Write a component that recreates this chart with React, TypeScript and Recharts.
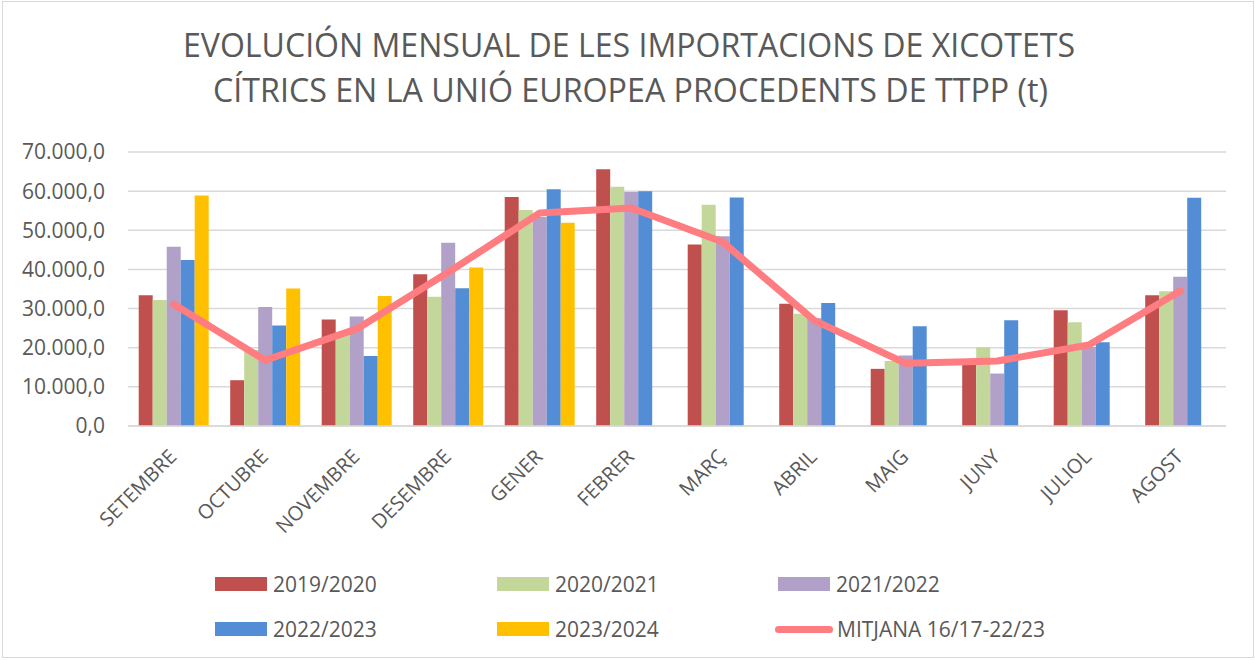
import React from 'react';
import { ComposedChart, Bar, Line, XAxis, YAxis, CartesianGrid, Legend } from 'recharts';

const months = ['SETEMBRE', 'OCTUBRE', 'NOVEMBRE', 'DESEMBRE', 'GENER', 'FEBRER', 'MARÇ', 'ABRIL', 'MAIG', 'JUNY', 'JULIOL', 'AGOST'];
const s1920 = [33400, 11700, 27200, 38800, 58500, 65600, 46400, 31200, 14600, 15600, 29600, 33400];
const s2021 = [32200, 19400, 23600, 33000, 55200, 61100, 56500, 28700, 16600, 20100, 26500, 34400];
const s2122 = [45800, 30400, 28000, 46800, 53400, 59800, 48500, 27500, 18000, 13400, 20200, 38100];
const s2223 = [42400, 25700, 17900, 35200, 60500, 60000, 58400, 31400, 25500, 27000, 21400, 58300];
const s2324: (number | null)[] = [58900, 35100, 33200, 40500, 51900, null, null, null, null, null, null, null];
const mitjana = [31100, 16800, 24800, 39300, 54400, 55700, 47000, 27000, 16000, 16600, 20700, 34500];
const yTicks = [0, 10000, 20000, 30000, 40000, 50000, 60000, 70000];

const seriesNames = ['2019/2020', '2020/2021', '2021/2022', '2022/2023', '2023/2024', 'MITJANA 16/17-22/23'];
const seriesKeys = ['s1920', 's2021', 's2122', 's2223', 's2324', 'mitjana'];
const seriesColors = ['#C0504D', '#C4D79B', '#B1A0C7', '#538DD5', '#FFC000', '#FF7C80'];

const titleLines = ['EVOLUCIÓN MENSUAL DE LES IMPORTACIONS DE XICOTETS', 'CÍTRICS EN LA UNIÓ EUROPEA PROCEDENTS DE TTPP (t)'];

const data = months.map((m, i) => ({
  month: m,
  s1920: s1920[i],
  s2021: s2021[i],
  s2122: s2122[i],
  s2223: s2223[i],
  s2324: s2324[i],
  mitjana: mitjana[i],
}));

const FONT = '"Open Sans", sans-serif';
const TEXT = '#595959';

const fmt = (v: number) => {
  const s = Math.round(v).toString().replace(/\B(?=(\d{3})+(?!\d))/g, '.');
  return s + ',0';
};

const XTick = (props: any) => {
  const { x, y, payload } = props;
  return (
    <g transform={`translate(${x + 4},${y + 32})`}>
      <text x={0} y={0} transform="rotate(-45)" textAnchor="end" fill={TEXT} fontSize={20} fontFamily={FONT}>
        {payload.value}
      </text>
    </g>
  );
};

const legendPos = [
  { left: 215, top: 21 },
  { left: 497, top: 21 },
  { left: 778, top: 21 },
  { left: 215, top: 66 },
  { left: 497, top: 66 },
  { left: 778, top: 66 },
];

const renderLegend = () => (
  <div style={{ position: 'relative', width: 1255, height: 100, fontFamily: FONT }}>
    {seriesNames.map((n, i) => {
      const p = legendPos[i];
      const isLine = i === 5;
      return (
        <div key={n} style={{ position: 'absolute', left: isLine ? p.left - 3 : p.left, top: p.top - 4, height: 22, display: 'flex', alignItems: 'center' }}>
          {isLine ? (
            <div style={{ width: 58, height: 7, borderRadius: 4, background: seriesColors[i] }} />
          ) : (
            <div style={{ width: 52, height: 14, background: seriesColors[i] }} />
          )}
          <span style={{ marginLeft: isLine ? 4 : 6, fontSize: 21, color: TEXT, whiteSpace: 'nowrap', lineHeight: '22px' }}>{n}</span>
        </div>
      );
    })}
  </div>
);

export default function App() {
  return (
    <div style={{ position: 'absolute', left: 0, top: 0, width: 1255, height: 660, background: '#fff' }}>
      <div style={{ position: 'absolute', left: 2, top: 1, width: 1250, height: 655, border: '1px solid #D9D9D9' }} />
      <svg width={1255} height={130} style={{ position: 'absolute', left: 0, top: 0 }}>
        <text x={183} y={57} textLength={892} lengthAdjust="spacingAndGlyphs" fontSize={32} fontFamily={FONT} fill={TEXT}>
          {titleLines[0]}
        </text>
        <text x={213} y={102} textLength={835} lengthAdjust="spacingAndGlyphs" fontSize={32} fontFamily={FONT} fill={TEXT}>
          {titleLines[1]}
        </text>
      </svg>
      <div style={{ position: 'absolute', left: 0, top: 0 }}>
        <ComposedChart
          width={1255}
          height={660}
          data={data}
          margin={{ top: 152, right: 29, bottom: 4, left: 0 }}
          barCategoryGap="11.7%"
          barGap={0}
        >
          <CartesianGrid vertical={false} stroke="#D9D9D9" strokeWidth={1.5} />
          <XAxis
            dataKey="month"
            interval={0}
            height={130}
            tickLine={false}
            tickSize={0}
            tickMargin={0}
            axisLine={{ stroke: '#D9D9D9', strokeWidth: 1.5 }}
            tick={<XTick />}
          />
          <YAxis
            width={128}
            domain={[0, 70000]}
            ticks={yTicks}
            tickFormatter={fmt}
            axisLine={false}
            tickLine={false}
            tickSize={0}
            tickMargin={23}
            tick={{ fill: TEXT, fontSize: 21, fontFamily: FONT }}
          />
          <Legend verticalAlign="bottom" height={100} content={renderLegend} wrapperStyle={{ left: 0, top: 556, width: 1255, height: 100 }} />
          {seriesKeys.slice(0, 5).map((k, i) => (
            <Bar key={k} dataKey={k} name={seriesNames[i]} fill={seriesColors[i]} isAnimationActive={false} />
          ))}
          <Line
            dataKey="mitjana"
            name={seriesNames[5]}
            type="linear"
            stroke={seriesColors[5]}
            strokeWidth={7}
            strokeLinejoin="round"
            strokeLinecap="round"
            dot={false}
            activeDot={false}
            isAnimationActive={false}
          />
        </ComposedChart>
      </div>
    </div>
  );
}
